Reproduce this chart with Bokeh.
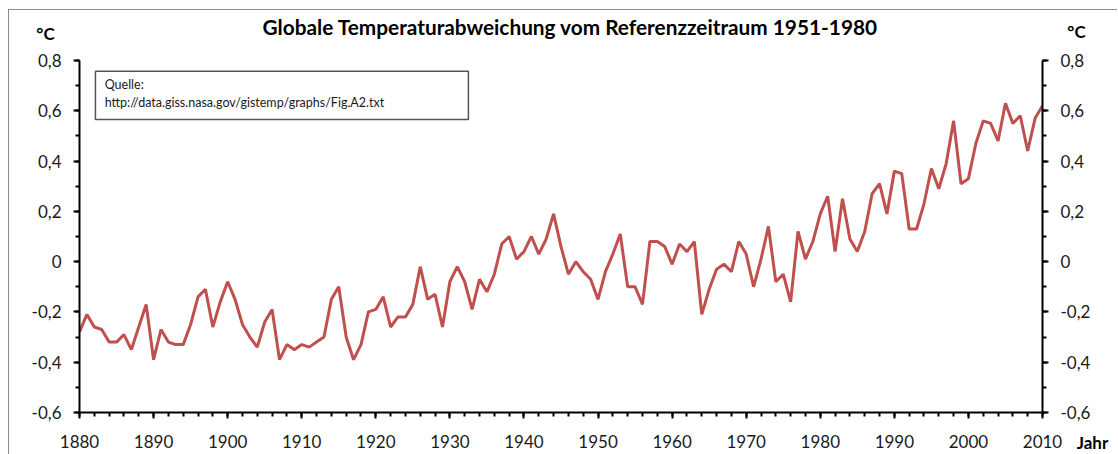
from bokeh.plotting import figure
from bokeh.models import (LinearAxis, FixedTicker, Range1d, Label, ColumnDataSource, Title)
from bokeh.embed import file_html
from bokeh.resources import INLINE

# ---- data ----
years = list(range(1880, 2011))
anomaly = [
    -0.28, -0.21, -0.26, -0.27, -0.32, -0.32, -0.29, -0.35, -0.26, -0.17,   # 1880-1889
    -0.39, -0.27, -0.32, -0.33, -0.33, -0.25, -0.14, -0.11, -0.26, -0.16,   # 1890-1899
    -0.08, -0.15, -0.25, -0.30, -0.34, -0.24, -0.19, -0.39, -0.33, -0.35,   # 1900-1909
    -0.33, -0.34, -0.32, -0.30, -0.15, -0.10, -0.30, -0.39, -0.33, -0.20,   # 1910-1919
    -0.19, -0.14, -0.26, -0.22, -0.22, -0.17, -0.02, -0.15, -0.13, -0.26,   # 1920-1929
    -0.08, -0.02, -0.08, -0.19, -0.07, -0.12, -0.05, 0.07, 0.10, 0.01,      # 1930-1939
    0.04, 0.10, 0.03, 0.09, 0.19, 0.06, -0.05, 0.00, -0.04, -0.07,          # 1940-1949
    -0.15, -0.04, 0.03, 0.11, -0.10, -0.10, -0.17, 0.08, 0.08, 0.06,        # 1950-1959
    -0.01, 0.07, 0.04, 0.08, -0.21, -0.11, -0.03, -0.01, -0.04, 0.08,       # 1960-1969
    0.03, -0.10, 0.01, 0.14, -0.08, -0.05, -0.16, 0.12, 0.01, 0.08,         # 1970-1979
    0.19, 0.26, 0.04, 0.25, 0.09, 0.04, 0.12, 0.27, 0.31, 0.19,             # 1980-1989
    0.36, 0.35, 0.13, 0.13, 0.23, 0.37, 0.29, 0.39, 0.56, 0.31,             # 1990-1999
    0.33, 0.47, 0.56, 0.55, 0.48, 0.63, 0.55, 0.58, 0.44, 0.57,             # 2000-2009
    0.62,                                                                   # 2010
]
x_ticks = [1880, 1890, 1900, 1910, 1920, 1930, 1940, 1950, 1960, 1970, 1980, 1990, 2000, 2010]
x_minor = list(range(1880, 2011, 2))
y_ticks = [-0.6, -0.4, -0.2, 0, 0.2, 0.4, 0.6, 0.8]
y_tick_labels = ["-0,6", "-0,4", "-0,2", "0", "0,2", "0,4", "0,6", "0,8"]
y_minor = [-0.6, -0.5, -0.4, -0.3, -0.2, -0.1, 0, 0.1, 0.2, 0.3, 0.4, 0.5, 0.6, 0.7, 0.8]

title_text = "Globale Temperaturabweichung vom Referenzzeitraum 1951-1980"
unit_text = "°C"
x_title = "Jahr"
source_lines = ["Quelle:", "http://data.giss.nasa.gov/gistemp/graphs/Fig.A2.txt"]

FONT = "Lato"
LINE_COLOR = "#C0504D"
TEXT_COLOR = "#1a1a1a"

p = figure(
    frame_width=963, frame_height=352,
    x_range=Range1d(1880, 2010), y_range=Range1d(-0.6, 0.8),
    output_backend="svg", toolbar_location=None,
    min_border_left=70, min_border_right=75, min_border_top=50, min_border_bottom=42,
    x_axis_type=None, y_axis_type=None,
)
p.title = None
p.outline_line_color = None
p.background_fill_color = "white"
p.border_fill_color = "white"
p.styles = {"margin-left": "8px", "margin-top": "9px",
            "border-left": "1px solid #8c8c8c", "border-top": "1px solid #8c8c8c"}

xt = FixedTicker(ticks=x_ticks, minor_ticks=x_minor)
yt = FixedTicker(ticks=y_ticks, minor_ticks=y_minor)
overrides = {t: l for t, l in zip(y_ticks, y_tick_labels)}


def style_axis(ax):
    ax.axis_line_color = "black"
    ax.axis_line_width = 2
    ax.major_tick_line_color = "black"
    ax.major_tick_line_width = 2
    ax.minor_tick_line_color = "black"
    ax.minor_tick_line_width = 2
    ax.major_tick_in = 0
    ax.major_tick_out = 6
    ax.minor_tick_in = 0
    ax.minor_tick_out = 4
    ax.major_label_text_font = FONT
    ax.major_label_text_font_size = "17px"
    ax.major_label_text_color = TEXT_COLOR


xaxis = LinearAxis(ticker=xt)
style_axis(xaxis)
xaxis.major_label_standoff = 16
p.add_layout(xaxis, "below")

yaxis_l = LinearAxis(ticker=yt, major_label_overrides=overrides)
style_axis(yaxis_l)
yaxis_l.major_label_standoff = 12
p.add_layout(yaxis_l, "left")

yaxis_r = LinearAxis(ticker=yt, major_label_overrides=overrides)
style_axis(yaxis_r)
yaxis_r.major_label_standoff = 12
p.add_layout(yaxis_r, "right")

p.xgrid.ticker = xt
p.ygrid.ticker = yt
p.xgrid.grid_line_color = "#a6a6a6"
p.ygrid.grid_line_color = "#999999"
p.xgrid.grid_line_width = 1.2
p.ygrid.grid_line_width = 1.2

src = ColumnDataSource(dict(year=years, anomaly=anomaly))
p.line("year", "anomaly", source=src, line_color=LINE_COLOR, line_width=3)

# source box
p.quad(left=[1882.15], right=[1932.5], bottom=[0.565], top=[0.757],
       fill_color="white", line_color="#555555", line_width=1.5)
p.add_layout(Label(x=1883.4, y=0.705, text=source_lines[0], text_font=FONT,
                   text_font_size="12.5px", text_color=TEXT_COLOR,
                   text_baseline="middle", text_align="left"))
p.add_layout(Label(x=1883.4, y=0.634, text=source_lines[1], text_font=FONT,
                   text_font_size="12.5px", text_color=TEXT_COLOR,
                   text_baseline="middle", text_align="left"))


# unit / axis-name labels outside the frame (canvas units, in side panels so they are not clipped)
def canvas_label(x, y, text, size, align="center"):
    return Label(x=x, y=y, x_units="canvas", y_units="canvas", text=text,
                 text_font=FONT, text_font_size=size, text_font_style="bold",
                 text_color="black", text_baseline="middle", text_align=align)

p.add_layout(canvas_label(35, 22, unit_text, "17px"), "left")
p.add_layout(canvas_label(1066, 20, unit_text, "17px"), "right")
p.add_layout(canvas_label(1082, 431, x_title, "17px"), "above")

p.add_layout(Title(text=title_text, align="left", offset=183, standoff=1,
                   text_font=FONT, text_font_size="20.8px", text_font_style="bold",
                   text_color="black"), "above")

open("out.html", "w").write(file_html(p, INLINE))
